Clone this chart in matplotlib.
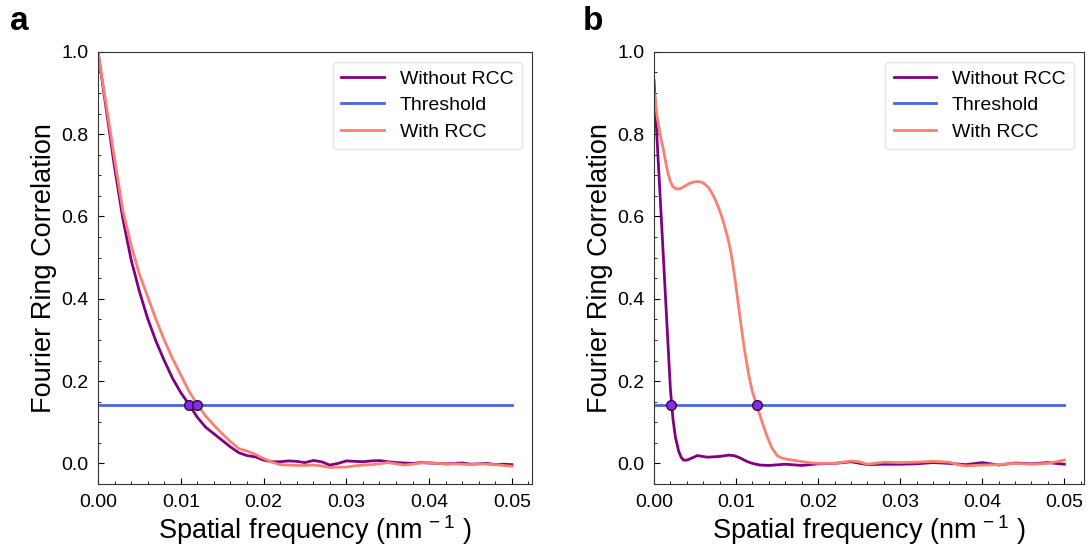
import matplotlib
matplotlib.use("Agg")
import matplotlib.pyplot as plt
import numpy as np

plt.rcParams['font.family'] = ['Liberation Sans', 'DejaVu Sans']
plt.rcParams['mathtext.fontset'] = 'custom'
plt.rcParams['mathtext.rm'] = 'Liberation Sans'

# =============================================================================
# Data
# =============================================================================
threshold = 1 / 7

# panel a
freq_a = np.linspace(0, 0.05, 51)
frc_a_without = [1.00, 0.86, 0.72, 0.595, 0.495, 0.418, 0.352, 0.297, 0.25, 0.207,
                 0.172, 0.143, 0.112, 0.088, 0.072, 0.056, 0.040, 0.026, 0.019, 0.016,
                 0.008, 0.004, 0.004, 0.006, 0.005, 0.002, 0.007, 0.004, -0.004, 0.000,
                 0.006, 0.005, 0.004, 0.006, 0.007, 0.004, 0.002, 0.001, 0.000, 0.002,
                 0.001, 0.000, -0.001, 0.000, 0.001, -0.002, -0.001, 0.000, -0.003, -0.002,
                 -0.003]
frc_a_with = [1.00, 0.87, 0.74, 0.615, 0.53, 0.46, 0.405, 0.35, 0.30, 0.255,
              0.215, 0.175, 0.143, 0.115, 0.093, 0.072, 0.053, 0.036, 0.030, 0.022,
              0.012, 0.003, -0.003, -0.004, -0.005, -0.005, -0.004, -0.006, -0.010, -0.009,
              -0.009, -0.006, -0.004, -0.003, -0.001, 0.002, -0.001, -0.004, -0.002, 0.001,
              0.002, 0.000, -0.002, -0.001, -0.002, -0.003, -0.001, -0.002, -0.003, -0.005,
              -0.007]
cross_a = [0.0110, 0.0120]

# panel b
freq_b_without = [0.0, 0.0005, 0.001, 0.0015, 0.002, 0.0023, 0.0026, 0.003, 0.0033,
                  0.0036, 0.0040, 0.0045, 0.0053, 0.0065, 0.0080, 0.0091, 0.0097,
                  0.0103, 0.0108, 0.0114, 0.012, 0.0129, 0.014,
                  0.016, 0.018, 0.020, 0.022, 0.024, 0.026, 0.028, 0.030, 0.032, 0.034,
                  0.036, 0.038, 0.040, 0.042, 0.044, 0.046, 0.048, 0.050]
frc_b_without = [0.93, 0.74, 0.555, 0.367, 0.18, 0.11, 0.065, 0.030, 0.015,
                 0.008, 0.008, 0.012, 0.019, 0.015, 0.017, 0.020, 0.019,
                 0.015, 0.010, 0.004, 0.000, -0.004, -0.005,
                 -0.002, -0.005, -0.001, 0.000, 0.004, -0.003, -0.002, -0.002, -0.001, 0.002,
                 0.000, -0.003, 0.002, -0.004, 0.001, -0.001, 0.002, -0.002]
freq_b_with = [0.0, 0.0004, 0.0008, 0.0011, 0.0014, 0.0017, 0.0020, 0.0023, 0.0027,
               0.0031, 0.0036, 0.0040, 0.0044, 0.0049, 0.0053, 0.0057, 0.0061, 0.0066,
               0.0070, 0.0074, 0.0078, 0.0082, 0.0086, 0.0090, 0.0093, 0.0096, 0.0099,
               0.0102, 0.0105, 0.0108, 0.0110, 0.0113, 0.0116, 0.0120, 0.0125, 0.0131,
               0.0137, 0.0143, 0.0150, 0.0156, 0.0162, 0.0175, 0.0188, 0.020,
               0.022, 0.024, 0.025, 0.026, 0.028, 0.030, 0.032, 0.034, 0.036, 0.037,
               0.038, 0.040, 0.042, 0.044, 0.046, 0.048, 0.050]
frc_b_with = [0.905, 0.84, 0.795, 0.766, 0.735, 0.705, 0.685, 0.672, 0.667,
              0.667, 0.672, 0.677, 0.681, 0.684, 0.685, 0.684, 0.680, 0.671,
              0.659, 0.644, 0.625, 0.603, 0.577, 0.547, 0.52, 0.485, 0.443,
              0.398, 0.352, 0.308, 0.28, 0.243, 0.21, 0.173, 0.143, 0.105,
              0.07, 0.04, 0.019, 0.013, 0.010, 0.006, 0.002, 0.000,
              0.000, 0.006, 0.004, -0.002, 0.003, 0.002, 0.003, 0.005, 0.003, -0.003,
              -0.006, -0.004, -0.003, 0.000, -0.002, 0.000, 0.008]
cross_b = [0.0021, 0.0125]

# =============================================================================
# Plot
# =============================================================================
def draw_panel(ax, x_wo, y_wo, x_w, y_w, cross):
    ax.plot(x_wo, y_wo, color="#800080", lw=2, label="Without RCC")
    ax.plot([0, 0.05], [threshold, threshold], color="#4169E1", lw=2,
            label="Threshold")
    ax.plot(x_w, y_w, color="#FA8072", lw=2, label="With RCC")
    ax.plot(cross, [threshold] * len(cross), "o", color="#8A2BE2",
            markeredgecolor="#2a1040", markersize=7, zorder=5)
    ax.set_xlim(0, 0.0524)
    ax.set_ylim(-0.05, 1.0)
    ax.set_xticks([0, 0.01, 0.02, 0.03, 0.04, 0.05])
    ax.set_xticklabels(["0.00", "0.01", "0.02", "0.03", "0.04", "0.05"])
    ax.set_yticks([0, 0.2, 0.4, 0.6, 0.8, 1.0])
    ax.minorticks_on()
    ax.tick_params(which="both", direction="in", labelsize=14)
    ax.tick_params(which="major", length=4, pad=7)
    ax.tick_params(which="minor", length=2)
    ax.set_ylabel("Fourier Ring Correlation", size=19.5, labelpad=3)
    ax.set_xlabel(r"Spatial frequency (nm$^{\,-1}$ )", size=19.5, labelpad=2)
    ax.legend(loc="upper right", fontsize=14, handlelength=2.2,
              handletextpad=0.8, borderpad=0.45, labelspacing=0.45,
              fancybox=True, edgecolor="#dddddd")
    for s in ax.spines.values():
        s.set_color("#333333")

fig = plt.figure(figsize=(10.9, 5.54), dpi=100, facecolor='w')
ax_a = fig.add_axes([0.0899, 0.1264, 0.398, 0.780])
ax_b = fig.add_axes([0.600, 0.1264, 0.3945, 0.780])

draw_panel(ax_a, freq_a, frc_a_without, freq_a, frc_a_with, cross_a)
draw_panel(ax_b, freq_b_without, frc_b_without, freq_b_with, frc_b_with, cross_b)

fig.text(0.009, 0.945, "a", fontsize=24, fontweight="bold")
fig.text(0.535, 0.945, "b", fontsize=24, fontweight="bold")

fig.savefig("out.png", dpi=100)
plt.close()
